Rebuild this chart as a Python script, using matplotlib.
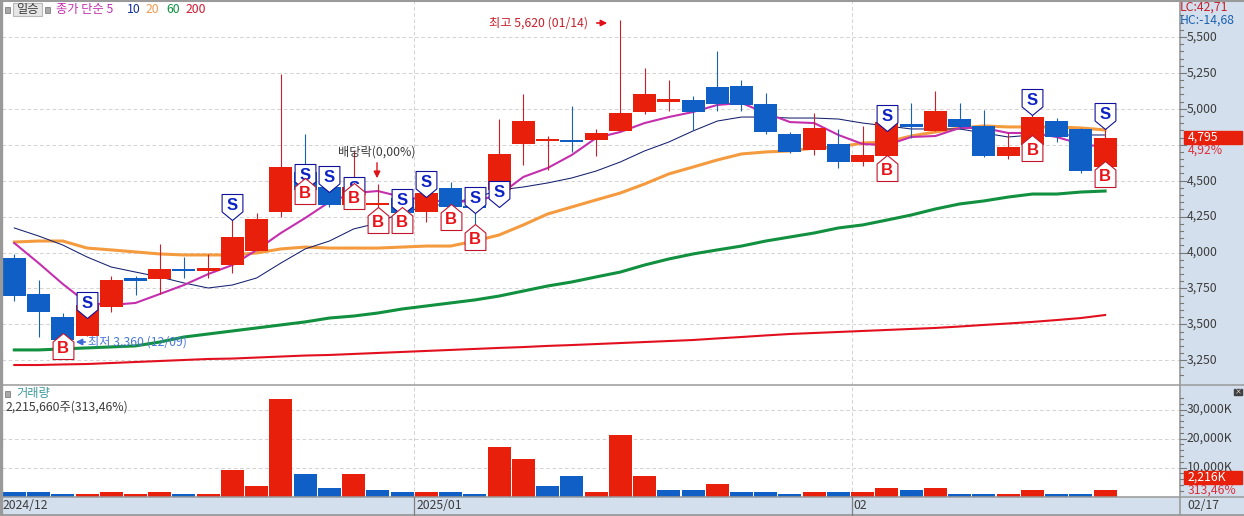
import matplotlib
matplotlib.use("Agg")
import matplotlib.pyplot as plt
from matplotlib.patches import Rectangle
from matplotlib.path import Path

plt.rcParams['font.family'] = ['Noto Sans CJK KR', 'DejaVu Sans']

W, H = 1244, 516

# prices
opens = [3962, 3711, 3551, 3422, 3621, 3825, 3816, 3888, 3872, 3913, 4011, 4282, 4560, 4456, 4331, 4328,
         4380, 4282, 4449, 4327, 4435, 4755, 4773, 4786, 4783, 4846, 4978, 5047, 5062, 5152, 5159, 5034,
         4825, 4713, 4755, 4630, 4672, 4894, 4846, 4929, 4881, 4672, 4748, 4915, 4860, 4595]
highs = [3990, 3809, 3579, 3635, 3837, 3837, 4059, 3969, 3990, 4226, 4275, 5242, 4825, 4456, 4713, 4480,
         4400, 4430, 4491, 4350, 4929, 5103, 4810, 5020, 4860, 5620, 5284, 5201, 5089, 5403, 5201, 5110,
         4839, 4971, 4860, 4881, 4950, 5041, 5124, 5041, 4992, 4832, 4960, 4936, 4867, 4853]
lows = [3663, 3412, 3360, 3422, 3586, 3704, 3711, 3823, 3823, 3857, 4011, 4247, 4380, 4317, 4331, 4240,
        4282, 4212, 4280, 4198, 4435, 4609, 4574, 4700, 4672, 4846, 4964, 4985, 4853, 4985, 4985, 4825,
        4690, 4679, 4588, 4602, 4672, 4797, 4846, 4860, 4665, 4651, 4720, 4769, 4553, 4590]
closes = [3697, 3586, 3391, 3635, 3809, 3805, 3885, 3868, 3892, 4108, 4233, 4595, 4435, 4331, 4456, 4348,
          4275, 4414, 4317, 4307, 4686, 4915, 4793, 4766, 4832, 4971, 5103, 5067, 4978, 5034, 5027, 4839,
          4700, 4867, 4630, 4679, 4908, 4873, 4985, 4873, 4672, 4734, 4943, 4804, 4567, 4795]

ma5 = [4066, 3927, 3781, 3649, 3635, 3649, 3711, 3774, 3850, 3913, 4018, 4136, 4240, 4352, 4414, 4428,
       4386, 4366, 4352, 4359, 4400, 4526, 4588, 4679, 4797, 4839, 4901, 4943, 4978, 5027, 5041, 4971,
       4908, 4901, 4818, 4755, 4748, 4804, 4811, 4867, 4867, 4832, 4832, 4804, 4755, 4734]
ma10 = [4171, 4115, 4052, 3969, 3899, 3864, 3830, 3788, 3753, 3774, 3823, 3927, 4025, 4080, 4164, 4205,
        4282, 4317, 4345, 4380, 4435, 4456, 4484, 4519, 4567, 4630, 4707, 4769, 4846, 4915, 4943, 4943,
        4936, 4936, 4929, 4901, 4881, 4860, 4860, 4860, 4832, 4804, 4818, 4818, 4818, 4818]
ma20 = [4073, 4080, 4080, 4031, 4018, 4004, 3990, 3983, 3983, 3983, 3997, 4025, 4038, 4031, 4031, 4031,
        4038, 4045, 4045, 4080, 4122, 4192, 4268, 4317, 4366, 4414, 4477, 4547, 4595, 4644, 4686, 4700,
        4707, 4727, 4734, 4762, 4769, 4811, 4839, 4867, 4881, 4874, 4874, 4874, 4867, 4853]
ma60 = [3322, 3322, 3329, 3336, 3343, 3350, 3377, 3412, 3433, 3454, 3475, 3496, 3517, 3544, 3558, 3579,
        3607, 3628, 3649, 3670, 3697, 3732, 3767, 3795, 3830, 3864, 3913, 3955, 3990, 4018, 4045, 4080,
        4108, 4136, 4171, 4192, 4226, 4261, 4303, 4338, 4359, 4386, 4407, 4407, 4421, 4428]
ma200 = [3217, 3217, 3221, 3224, 3231, 3238, 3245, 3252, 3259, 3262, 3269, 3276, 3283, 3287, 3294, 3301,
         3308, 3315, 3322, 3329, 3336, 3342, 3350, 3356, 3363, 3370, 3377, 3384, 3391, 3402, 3412, 3423,
         3433, 3440, 3447, 3454, 3461, 3468, 3475, 3485, 3496, 3506, 3517, 3530, 3544, 3565]

# volume, thousand shares
volumes = [1380, 1380, 1030, 1030, 1720, 690, 1720, 1030, 1030, 9310, 3790, 33450, 7930, 3100, 7930, 2070,
           1720, 1720, 1380, 1030, 16900, 12760, 3450, 7240, 1720, 21040, 6900, 2070, 2070, 4480, 1720, 1720,
           1030, 1380, 1380, 1380, 3100, 2070, 2760, 1030, 1030, 1030, 2070, 1030, 1030, 2216]
vol_up = [0, 0, 0, 1, 1, 1, 1, 0, 1, 1, 1, 1, 0, 0, 1, 0,
          0, 1, 0, 0, 1, 1, 0, 0, 1, 1, 1, 0, 0, 1, 0, 0,
          0, 1, 0, 1, 1, 0, 1, 0, 0, 1, 1, 0, 0, 1]

# S / B flags: candle index and the price at the flag's tip
sell_idx = [3, 9, 12, 13, 14, 16, 17, 19, 20, 36, 42, 45]
sell_tip = [3544, 4226, 4435, 4421, 4345, 4261, 4386, 4275, 4317, 4846, 4957, 4860]
buy_idx = [2, 12, 14, 15, 16, 18, 19, 36, 42, 45]
buy_tip = [3440, 4519, 4484, 4317, 4317, 4338, 4198, 4679, 4818, 4637]

price_ticks = [3250, 3500, 3750, 4000, 4250, 4500, 4750, 5000, 5250, 5500]
price_hidden = [4750]  # sits behind the last price box in the reference
vol_ticks = [10000, 20000, 30000]
month_breaks = [16.5, 34.55]
month_labels = ["2024/12", "2025/01", "02"]

RED = "#e81f0a"
BLUE = "#0f5fc6"
WICK_RED = "#c8202a"
WICK_BLUE = "#1a62b0"
PANEL = "#d4dfed"
GRID = "#d4d4d4"
FRAME = "#9a9a9a"
TXT = "#3c3c3c"
FS = 8.8


def px_axes(fig, x0, y0, x1, y1):
    return fig.add_axes([x0 / W, 1 - y1 / H, (x1 - x0) / W, (y1 - y0) / H])


def t(x, y, s, color=TXT, fs=FS, **kw):
    kw.setdefault("va", "center")
    bg.text(x, y, s, color=color, fontsize=fs, **kw)


fig = plt.figure(figsize=(W / 100, H / 100), dpi=100, facecolor="white")

# background chrome in pixel coordinates
bg = fig.add_axes([0, 0, 1, 1], zorder=5)
bg.set_xlim(0, W)
bg.set_ylim(H, 0)
bg.axis("off")
bg.patch.set_alpha(0)

under = fig.add_axes([0, 0, 1, 1], zorder=0)
under.set_xlim(0, W)
under.set_ylim(H, 0)
under.axis("off")
under.add_patch(Rectangle((1180, 0), 64, 516, color=PANEL))
under.add_patch(Rectangle((0, 497), 1244, 19, color=PANEL))

# x range from the candle spacing
x_per = 24.24
x_off = 14.3
xlim = ((2 - x_off) / x_per, (1179.5 - x_off) / x_per)

# price pane
ax = px_axes(fig, 2, 1, 1179.5, 385)
ax.set_zorder(1)
ax.patch.set_alpha(0)
ax.set_xlim(*xlim)
ax.set_ylim(5500 - (385 - 37) * 6.96, 5500 + 36 * 6.96)
for s in ax.spines.values():
    s.set_visible(False)
ax.tick_params(left=False, bottom=False, labelleft=False, labelbottom=False)
ax.hlines(price_ticks, xlim[0], xlim[1], color=GRID, lw=0.75, ls=(0, (3.5, 2.5)), zorder=1)
ax.vlines(month_breaks, *ax.get_ylim(), color=GRID, lw=0.75, ls=(0, (3.5, 2.5)), zorder=1)

xs = list(range(len(closes)))
ax.plot(xs, ma200, color="#e2101e", lw=1.5, zorder=2)
ax.plot(xs, ma60, color="#119040", lw=2.2, zorder=2)
ax.plot(xs, ma20, color="#f59b3f", lw=2.2, zorder=2)
ax.plot(xs, ma10, color="#14206e", lw=0.75, zorder=2)
ax.plot(xs, ma5, color="#c42fae", lw=1.5, zorder=2)

for i in xs:
    up = closes[i] >= opens[i]
    ax.vlines(i, lows[i], highs[i], color=WICK_RED if up else WICK_BLUE, lw=0.8, zorder=3)
    ax.bar(i, abs(closes[i] - opens[i]), bottom=min(opens[i], closes[i]), width=0.95,
           color=RED if up else BLUE, lw=0, zorder=3)

# flags; the vertex at y=1 sets the scale, so the size is twice the flag height
sell_path = Path([(-0.4, 1), (0.4, 1), (0.4, 0.33), (0, 0), (-0.4, 0.33), (-0.4, 1)], closed=True)
buy_path = Path([(-0.4, -1), (0.4, -1), (0.4, -0.33), (0, 0), (-0.4, -0.33), (-0.4, -1)], closed=True)
ms = 2 * 26 * 0.72
ax.plot(sell_idx, sell_tip, ls="", marker=sell_path, ms=ms, mfc="white", mec="#10109a", mew=0.8, zorder=4)
for i, p in zip(sell_idx, sell_tip):
    ax.annotate("S", (i, p), xytext=(0, 10.5), textcoords="offset points", ha="center", va="center",
                color="#0c22c4", fontsize=12, fontweight="bold", family="Liberation Sans", zorder=4)
ax.plot(buy_idx, buy_tip, ls="", marker=buy_path, ms=ms, mfc="white", mec="#c4142a", mew=0.8, zorder=5)
for i, p in zip(buy_idx, buy_tip):
    ax.annotate("B", (i, p), xytext=(0, -11), textcoords="offset points", ha="center", va="center",
                color="#e8141a", fontsize=12, fontweight="bold", family="Liberation Sans", zorder=5)

# volume pane
vx = px_axes(fig, 2, 385.5, 1179.5, 496.5)
vx.set_zorder(1)
vx.patch.set_alpha(0)
vx.set_xlim(*xlim)
vx.set_ylim(0, (496.5 - 385.5) * 10000 / 29)
for s in vx.spines.values():
    s.set_visible(False)
vx.tick_params(left=False, bottom=False, labelleft=False, labelbottom=False)
vx.hlines(vol_ticks, xlim[0], xlim[1], color=GRID, lw=0.75, ls=(0, (3.5, 2.5)), zorder=1)
vx.vlines(month_breaks, *vx.get_ylim(), color=GRID, lw=0.75, ls=(0, (3.5, 2.5)), zorder=1)
vx.bar(xs, volumes, width=0.95, color=[RED if u else BLUE for u in vol_up], lw=0, zorder=3)

# frame lines
bg.plot([0, W], [0.5, 0.5], color=FRAME, lw=1.5)
bg.plot([0.8, 0.8], [0, H], color=FRAME, lw=2.4)
bg.plot([1179.5, 1179.5], [0, H], color=FRAME, lw=1.2)
bg.plot([0, W], [385, 385], color=FRAME, lw=1.1)
bg.plot([0, W], [497, 497], color=FRAME, lw=1.1)
bg.plot([0, W], [515.2, 515.2], color=FRAME, lw=1.3)
for m in month_breaks:
    bg.plot([x_off + m * x_per] * 2, [497, 515], color="#808080", lw=0.9)

# right axis ticks and labels
for v in range(3150, 5700, 50):
    y = 37 + (5500 - v) / 6.96
    major = v in price_ticks
    bg.plot([1179.5, 1186 if major else 1182.5], [y, y], color="#777777", lw=0.8)
    if major and v not in price_hidden:
        t(1187, y, f"{v:,}")
for v in range(2000, 36000, 2000):
    y = 496.5 - v * 29 / 10000
    major = v in vol_ticks
    bg.plot([1179.5, 1186 if major else 1182.5], [y, y], color="#777777", lw=0.8)
    if major:
        t(1187, y, f"{v:,}K")

# top left legend
for sx in (7.5, 47.5):
    bg.add_patch(Rectangle((sx - 2.5, 6.5), 5, 6, fc="#a8a8a8", ec="#808080", lw=0.6))
bg.add_patch(Rectangle((13, 3), 29, 13, fc="#e6e6e6", ec="#b8b8b8", lw=0.8))
t(27.5, 9.5, "일승", ha="center")
t(56, 9.5, "종가 단순 5", color="#c42fae")
t(127, 9.5, "10", color="#14309a")
t(146, 9.5, "20", color="#f09a50")
t(166, 9.5, "60", color="#119040")
t(186, 9.5, "200", color="#d01a30")

# top right values
t(1180, 7.5, "LC:42,71", color="#c8202a")
t(1180, 20, "HC:-14,68", color="#1a62b0")

# annotations
t(489, 23, "최고 5,620 (01/14)", color="#c8202a")
bg.annotate("", xy=(610, 23), xytext=(594, 23), arrowprops=dict(arrowstyle="-|>", color="#e0101a", lw=1.2, mutation_scale=9))
t(88, 342, "최저 3,360 (12/09)", color="#4a78d8")
bg.annotate("", xy=(73, 342), xytext=(88, 342), arrowprops=dict(arrowstyle="-|>", color="#3a68d8", lw=1.2, mutation_scale=9))
t(338, 152, "배당락(0,00%)")
bg.annotate("", xy=(377, 181), xytext=(377, 160), arrowprops=dict(arrowstyle="-|>", color="#e0101a", lw=1.0, mutation_scale=10))

# last price boxes
bg.add_patch(Rectangle((1184, 131), 58, 13, color=RED))
t(1188, 137.5, "4,795", color="white")
t(1188, 150.5, "4,92%", color="#d8303a")
bg.add_patch(Rectangle((1184, 471), 58, 13, color=RED, zorder=3))
t(1188, 477.5, "2,216K", color="white", zorder=4)
t(1188, 490.5, "313,46%", color="#d8303a")

# volume header
bg.add_patch(Rectangle((5, 391), 5, 6, fc="#a8a8a8", ec="#808080", lw=0.6))
t(16, 394, "거래량", color="#3f9a9a")
t(6, 407, "2,215,660주(313,46%)")
bg.add_patch(Rectangle((1234, 389), 8, 6, color="#404040"))
bg.text(1238, 391.8, "×", color="white", fontsize=5, ha="center", va="center")

# date axis
t(3, 505.5, month_labels[0])
t(x_off + month_breaks[0] * x_per + 2, 505.5, month_labels[1])
t(x_off + month_breaks[1] * x_per + 2, 505.5, month_labels[2])
t(1187, 505.5, "02/17")

fig.savefig("out.png", dpi=100)
